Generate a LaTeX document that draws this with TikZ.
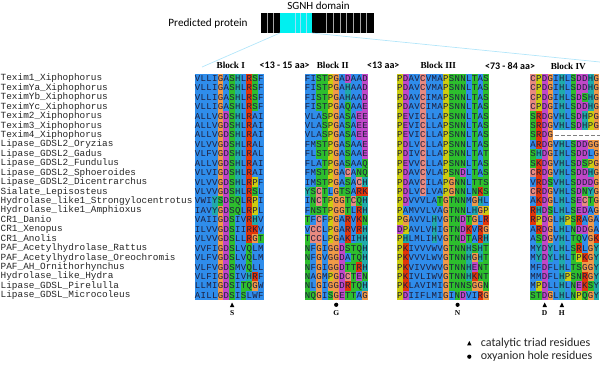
\documentclass[tikz,border=0pt]{standalone}
\usepackage{fontspec}
\setmainfont{Liberation Serif}
\setmonofont{Liberation Mono}
\newfontfamily\calfont{Carlito}
\definecolor{colBlue}{HTML}{2F8DEB}
\definecolor{colGreen}{HTML}{2DBE2D}
\definecolor{colOrange}{HTML}{F09A48}
\definecolor{colMag}{HTML}{C048C8}
\definecolor{colRed}{HTML}{E0350A}
\definecolor{colTeal}{HTML}{20AAAA}
\definecolor{colYel}{HTML}{CCCC10}
\definecolor{colPink}{HTML}{E88A80}
\definecolor{restxt}{HTML}{1E1E3C}
\definecolor{barcyan}{HTML}{00F0F0}
\def\setclr#1#2{\expandafter\def\csname rc#1\endcsname{#2}}
\setclr{A}{colBlue}\setclr{V}{colBlue}\setclr{L}{colBlue}\setclr{I}{colBlue}
\setclr{M}{colBlue}\setclr{F}{colBlue}\setclr{W}{colBlue}
\setclr{G}{colOrange}
\setclr{D}{colMag}\setclr{E}{colMag}
\setclr{S}{colGreen}\setclr{T}{colGreen}\setclr{N}{colGreen}\setclr{Q}{colGreen}
\setclr{K}{colRed}\setclr{R}{colRed}
\setclr{H}{colTeal}\setclr{Y}{colTeal}
\setclr{P}{colYel}
\setclr{C}{colPink}
\newcount\sqc
\def\sqx{0}\def\sqy{0}
\newcommand\seqrow[3]{\def\sqx{#1}\pgfmathsetmacro\sqy{73.7+(#2-1)*9.43}\sqc=0 \sqparse#3\relax}
\def\sqparse#1{\ifx\relax#1\else\sqcell{#1}\advance\sqc by 1 \expandafter\sqparse\fi}
\newcommand\sqcell[1]{%
  \pgfmathsetmacro\cx{\sqx+\the\sqc*5.75}%
  \edef\curclr{\csname rc#1\endcsname}%
  \fill[fill=\curclr] (\cx,\sqy) rectangle ++(5.9,9.55);
  \node[res] at (\cx+2.875,\sqy+7.7) {#1};}
\newcommand\nm[2]{\pgfmathsetmacro\ny{73.7+(#1-0.5)*9.43}\node[seqname] (n#1) at (0.5,\ny) {#2};}
\tikzset{
  res/.style={font=\ttfamily\fontsize{9}{9}\selectfont, text=restxt, inner sep=0pt, anchor=base},
  seqname/.style={font=\ttfamily\fontsize{9.4}{10}\selectfont, text=black!85, inner sep=0pt, anchor=west},
  blk/.style={font=\bfseries\fontsize{9.2}{10}\selectfont, inner sep=0pt},
  gap/.style={font=\calfont\bfseries\fontsize{10}{11}\selectfont, inner sep=0pt},
  mk/.style={font=\bfseries\fontsize{7.5}{8}\selectfont, inner sep=0pt},
  legend/.style={font=\calfont\fontsize{12}{13}\selectfont, inner sep=0pt, anchor=west, text=black!85},
  barline/.style={draw=gray!70, line width=0.7pt},
  cyanline/.style={draw=white!70!cyan, line width=0.7pt}
}
\begin{document}
\begin{tikzpicture}[x=1pt,y=-1pt]
\useasboundingbox (0,0) rectangle (600,365);
% top protein bar
\node[font=\calfont\fontsize{11}{12}\selectfont, inner sep=0pt] (sgnh) at (318.5,6) {SGNH domain};
\node[font=\calfont\fontsize{11.2}{12}\selectfont, inner sep=0pt] (pred) at (208,24) {Predicted protein};
\fill[black] (260.7,13.3) rectangle (374,33);
\fill[barcyan] (280,13.3) rectangle (311.7,33);
\foreach \lx in {267.3,273.3,326,333.3,340,346.7,353.3,360,366.7}{\draw[barline] (\lx,13.3) -- (\lx,33);}
\foreach \lx in {295,300.3,306.5}{\draw[draw=white!60!cyan, line width=0.7pt] (\lx,13.3) -- (\lx,33);}
\coordinate (cl) at (280,33);
\coordinate (cr) at (311.7,33);
\coordinate (al) at (202,67);
\coordinate (ar) at (600,62);
\draw[cyanline] (cl) -- (al);
\draw[cyanline] (cr) -- (ar);
% headers
\node[blk] (b1) at (230.8,65.7) {Block I};
\node[gap] (g1) at (284.7,65.7) {<13 - 15 aa>};
\node[blk] (b2) at (332.8,65.7) {Block II};
\node[gap] (g2) at (383.3,65.7) {<13 aa>};
\node[blk] (b3) at (438.3,65.7) {Block III};
\node[gap] (g3) at (510,65.7) {<73 - 84 aa>};
\node[blk] (b4) at (568.3,66.5) {Block IV};
% names
\nm{1}{Texim1\_Xiphophorus}
\nm{2}{TeximYa\_Xiphophorus}
\nm{3}{TeximYb\_Xiphophorus}
\nm{4}{TeximYc\_Xiphophorus}
\nm{5}{Texim2\_Xiphophorus}
\nm{6}{Texim3\_Xiphophorus}
\nm{7}{Texim4\_Xiphophorus}
\nm{8}{Lipase\_GDSL2\_Oryzias}
\nm{9}{Lipase\_GDSL2\_Gadus}
\nm{10}{Lipase\_GDSL2\_Fundulus}
\nm{11}{Lipase\_GDSL2\_Sphoeroides}
\nm{12}{Lipase\_GDSL2\_Dicentrarchus}
\nm{13}{Sialate\_Lepisosteus}
\nm{14}{Hydrolase\_like1\_Strongylocentrotus}
\nm{15}{Hydrolase\_like1\_Amphioxus}
\nm{16}{CR1\_Danio}
\nm{17}{CR1\_Xenopus}
\nm{18}{CR1\_Anolis}
\nm{19}{PAF\_Acetylhydrolase\_Rattus}
\nm{20}{PAF\_Acetylhydrolase\_Oreochromis}
\nm{21}{PAF\_AH\_Ornithorhynchus}
\nm{22}{Hydrolase\_like\_Hydra}
\nm{23}{Lipase\_GDSL\_Pirelulla}
\nm{24}{Lipase\_GDSL\_Microcoleus}
% Block I
\seqrow{194.7}{1}{VLLIGASHLRSF}
\seqrow{194.7}{2}{VLLIGASHLRSF}
\seqrow{194.7}{3}{VLLIGASHLRSF}
\seqrow{194.7}{4}{VLLIGASHLRSF}
\seqrow{194.7}{5}{ALLVGDSHLRAI}
\seqrow{194.7}{6}{ALLVGDSHLRAI}
\seqrow{194.7}{7}{ALLVGDSHLRAI}
\seqrow{194.7}{8}{VLVVGDSHLRAL}
\seqrow{194.7}{9}{VLFVGDSHLRAL}
\seqrow{194.7}{10}{ALLVGDSHLRAI}
\seqrow{194.7}{11}{VLVIGDSHLRAI}
\seqrow{194.7}{12}{VLVVGDSHLRPF}
\seqrow{194.7}{13}{VLVVGDSHLRSL}
\seqrow{194.7}{14}{VWIYSDSQLRPI}
\seqrow{194.7}{15}{IAVYGDSQLRPL}
\seqrow{194.7}{16}{VAIIGDSIVRHV}
\seqrow{194.7}{17}{ILVVGDSIIRKV}
\seqrow{194.7}{18}{VLVVGDSLLRGT}
\seqrow{194.7}{19}{VVFIGDSLVQLM}
\seqrow{194.7}{20}{VLFVGDSLVQLM}
\seqrow{194.7}{21}{VLFVGDSMVQLL}
\seqrow{194.7}{22}{VLFIGDSIVHRF}
\seqrow{194.7}{23}{LLMIGDSITQGW}
\seqrow{194.7}{24}{AILLGDSISLWF}
% Block II
\seqrow{304.7}{1}{FISTPGADAAD}
\seqrow{304.7}{2}{FISTPGAHAAD}
\seqrow{304.7}{3}{FISTPGAHAAD}
\seqrow{304.7}{4}{FISTPGAQAAE}
\seqrow{304.7}{5}{VLASPGASAEE}
\seqrow{304.7}{6}{VLASPGASAEE}
\seqrow{304.7}{7}{VLASPGASAEE}
\seqrow{304.7}{8}{FMSTPGASAAE}
\seqrow{304.7}{9}{FLSTPGASAAE}
\seqrow{304.7}{10}{FLATPGASAAQ}
\seqrow{304.7}{11}{FMSTPGACANQ}
\seqrow{304.7}{12}{IMSTPGASACH}
\seqrow{304.7}{13}{YSCTLGTSARK}
\seqrow{304.7}{14}{INCTPGGTCQH}
\seqrow{304.7}{15}{FNSTPGGTLRH}
\seqrow{304.7}{16}{TFCFPGARVKN}
\seqrow{304.7}{17}{VCCLPGARVRH}
\seqrow{304.7}{18}{TCCLPGAKIHH}
\seqrow{304.7}{19}{NFGIGGDSTQH}
\seqrow{304.7}{20}{NFGVGGDATQH}
\seqrow{304.7}{21}{NFGIGGDTTRH}
\seqrow{304.7}{22}{NAGMPGDCTEN}
\seqrow{304.7}{23}{NLGIGGDRTQH}
\seqrow{304.7}{24}{NQGISGETTAG}
% Block III
\seqrow{397}{1}{PDAVCVMAPSNNLTAS}
\seqrow{397}{2}{PDAVCVMAPSNNLTAS}
\seqrow{397}{3}{PDAVCIMAPSNNLTAS}
\seqrow{397}{4}{PDAVCIMAPSNNLTAS}
\seqrow{397}{5}{PEVICLLAPSNNLTAS}
\seqrow{397}{6}{PEVICLLAPSNNLTAS}
\seqrow{397}{7}{PEVICLLAPSNNLTAS}
\seqrow{397}{8}{PDLVCLLAPSNNLTAS}
\seqrow{397}{9}{PDIVCLLAPSNNLTAT}
\seqrow{397}{10}{PEVVCLLAPSNNLTAS}
\seqrow{397}{11}{PDAVCVLAPSNDLTAS}
\seqrow{397}{12}{PDAVCILAPGNNLTTS}
\seqrow{397}{13}{PDLVCLVAPGNNLNKS}
\seqrow{397}{14}{PDVVVLATGTNNMGHL}
\seqrow{397}{15}{PAMVVLVAGTNNLHGP}
\seqrow{397}{16}{PGAVVLHVGTNDTGLR}
\seqrow{397}{17}{DPAVLVHIGTNDKVRG}
\seqrow{397}{18}{PHLMLIHVGTNDTARH}
\seqrow{397}{19}{PKIVVVWVGTNNHSHT}
\seqrow{397}{20}{PKVVVLWVGTNNHGHT}
\seqrow{397}{21}{PKVIVVWVGTNNHENT}
\seqrow{397}{22}{PKIVLIWVGTNNHKNT}
\seqrow{397}{23}{PKLAVIMIGTNNSGGN}
\seqrow{397}{24}{PDIIFLMIGINDVIRG}
% Block IV
\seqrow{530.3}{1}{CPDGIHLSDDHG}
\seqrow{530.3}{2}{CPDGIHLSDDHG}
\seqrow{530.3}{3}{CPDGIHLSDSHG}
\seqrow{530.3}{4}{CPDGIHLSDDHG}
\seqrow{530.3}{5}{SRDGVHLSDHPG}
\seqrow{530.3}{6}{SRDGVHLSDHPG}
\seqrow{530.3}{7}{SRDG}
\seqrow{530.3}{8}{ARDGVHLSDDGG}
\seqrow{530.3}{9}{SHDGIHLSDDLG}
\seqrow{530.3}{10}{SKDGVHLSDSPG}
\seqrow{530.3}{11}{CRDGVHLSDDHG}
\seqrow{530.3}{12}{VRDSVHLSDDDG}
\seqrow{530.3}{13}{CRDGVHLSDNYG}
\seqrow{530.3}{14}{AKDGLHLSECTG}
\seqrow{530.3}{15}{RHDSLHLSEDAG}
\seqrow{530.3}{16}{RPDGLHPSRAGA}
\seqrow{530.3}{17}{ARDGLHLNDDGA}
\seqrow{530.3}{18}{ASDGVHLTQVGK}
\seqrow{530.3}{19}{MYDYLHLSRLGY}
\seqrow{530.3}{20}{MYDYLHLTPKGY}
\seqrow{530.3}{21}{MFDFLHLTSGGY}
\seqrow{530.3}{22}{MMDFLHPSNRGY}
\seqrow{530.3}{23}{MPDLLHLNEKSY}
\seqrow{530.3}{24}{STDGLHLNPQGY}
\pgfmathsetmacro\gy{73.7+6*9.43}
\fill[white] (553.3,\gy) rectangle (600,\gy+9.43);
\coordinate (gs) at (555,\gy+4.7);
\coordinate (ge) at (600,\gy+4.7);
\draw[gray, line width=0.8pt, dash pattern=on 3.5pt off 2.5pt] (gs) -- (ge);
% residue markers
\fill (229.9,307) -- (234.3,307) -- (232.1,302.5) -- cycle;
\node[mk] (mS) at (232.1,313.5) {S};
\fill (336.2,304.8) circle (2.1);
\node[mk] (mG) at (336.2,313.5) {G};
\fill (457.6,304.8) circle (2.1);
\node[mk] (mN) at (457.6,313.5) {N};
\fill (542.5,307) -- (546.9,307) -- (544.7,302.5) -- cycle;
\node[mk] (mD) at (544.7,313.5) {D};
\fill (559.7,307) -- (564.1,307) -- (561.9,302.5) -- cycle;
\node[mk] (mH) at (561.9,313.5) {H};
% legend
\fill (467.1,345.3) -- (471.5,345.3) -- (469.3,341) -- cycle;
\node[legend] (lt) at (480.7,343.3) {catalytic triad residues};
\fill (469.3,356.7) circle (2.1);
\node[legend] (lo) at (480.7,356.7) {oxyanion hole residues};
\end{tikzpicture}
\end{document}
